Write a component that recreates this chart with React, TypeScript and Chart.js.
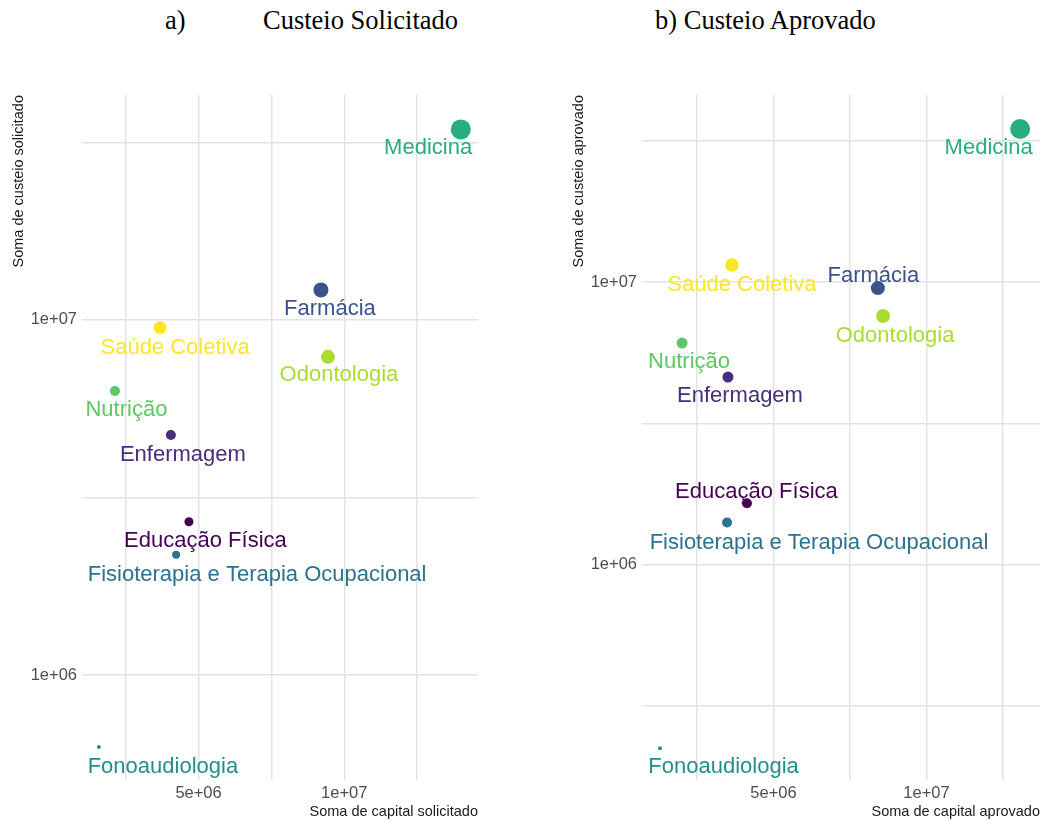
import React, { useEffect, useRef } from 'react';
import { Chart, registerables } from 'chart.js';

Chart.register(...registerables);

// ---------- data ----------
const categories = [
  'Educação Física',
  'Enfermagem',
  'Farmácia',
  'Fisioterapia e Terapia Ocupacional',
  'Fonoaudiologia',
  'Medicina',
  'Nutrição',
  'Odontologia',
  'Saúde Coletiva',
];
const colors = ['#440154', '#472D7B', '#3B528B', '#2C728E', '#21908C', '#27AD81', '#5DC863', '#AADC32', '#FDE725'];

// a) Custeio Solicitado
const capitalSolicitado = [4.67e6, 4.05e6, 9.2e6, 4.23e6, 1.58e6, 14.0e6, 2.13e6, 9.44e6, 3.68e6];
const custeioSolicitado = [2.7e6, 4.74e6, 1.215e7, 2.18e6, 6.27e5, 3.44e7, 6.31e6, 7.87e6, 9.51e6];
const sizeSolicitado = [4.5, 5, 7.5, 4, 2, 10, 5, 7, 6.5];

// b) Custeio Aprovado
const capitalAprovado = [4.13e6, 3.51e6, 8.41e6, 3.48e6, 1.29e6, 13.06e6, 2.01e6, 8.58e6, 3.64e6];
const custeioAprovado = [1.65e6, 4.61e6, 9.52e6, 1.41e6, 2.24e5, 3.48e7, 6.08e6, 7.58e6, 1.149e7];
const sizeAprovado = [5, 5.5, 7, 5, 2, 10, 5.5, 7, 6.7];

// ticks
const xTickValues = [2.5e6, 5e6, 7.5e6, 1e7, 1.25e7];
const xTickLabels = ['', '5e+06', '', '1e+07', ''];
const yTickValuesA = [1e6, 3162278, 1e7, 31622777];
const yTickValuesB = [316228, 1e6, 3162278, 1e7, 31622777];
const yTickLabelMap: Record<string, string> = { '1000000': '1e+06', '10000000': '1e+07' };

// label layout (pixel offsets of label centre from the point)
const labelOffsetsA: [number, number][] = [
  [16.5, 19.3], [12, 20], [9, 19], [81, 19.7], [64, 19.5], [-32.7, 19], [11.5, 18.7], [11, 18.5], [15, 20],
];
const labelOffsetsB: [number, number][] = [
  [9.5, -11.3], [12, 18.8], [-4.5, -12], [92, 20], [63.5, 18.5], [-31.5, 19.3], [7, 18.7], [12, 20], [10, 19.5],
];

const SANS = '"Liberation Sans", Arial, sans-serif';

const labelPlugin = {
  id: 'pointLabels',
  beforeDatasetsDraw(chart: any, _args: any, opts: any) {
    const meta = chart.getDatasetMeta(0);
    const ctx = chart.ctx;
    ctx.save();
    ctx.font = `22px ${SANS}`;
    ctx.textAlign = 'center';
    ctx.textBaseline = 'middle';
    meta.data.forEach((el: any, i: number) => {
      const off = opts.offsets[i];
      ctx.fillStyle = colors[i];
      ctx.fillText(categories[i], el.x + off[0], el.y + off[1]);
    });
    ctx.restore();
  },
};

interface PanelProps {
  xs: number[];
  ys: number[];
  sizes: number[];
  offsets: [number, number][];
  xMin: number;
  xMax: number;
  yMin: number;
  yMax: number;
  yTicks: number[];
  xTitle: string;
  yTitle: string;
  paddingRight: number;
}

function Panel(p: PanelProps) {
  const ref = useRef<HTMLCanvasElement | null>(null);
  useEffect(() => {
    if (!ref.current) return;
    const chart = new Chart(ref.current, {
      type: 'scatter',
      data: {
        datasets: [
          {
            data: p.xs.map((x, i) => ({ x, y: p.ys[i] })),
            backgroundColor: colors,
            pointRadius: p.sizes,
            pointBorderWidth: 0,
            pointHoverRadius: p.sizes,
          },
        ],
      },
      options: {
        animation: false,
        responsive: true,
        maintainAspectRatio: false,
        events: [],
        layout: { autoPadding: false, padding: { top: 15, right: p.paddingRight, left: 0, bottom: 0 } },
        plugins: {
          legend: { display: false },
          tooltip: { enabled: false },
          pointLabels: { offsets: p.offsets },
        } as any,
        scales: {
          x: {
            type: 'linear',
            min: p.xMin,
            max: p.xMax,
            afterBuildTicks: (s: any) => {
              s.ticks = xTickValues.map((v) => ({ value: v }));
            },
            afterFit: (s: any) => {
              s.height = 41;
              s.paddingLeft = 0;
              s.paddingRight = 0;
            },
            grid: { color: '#E3E3E3', lineWidth: 1.5, drawTicks: false },
            border: { display: false },
            ticks: {
              autoSkip: false,
              maxRotation: 0,
              minRotation: 0,
              padding: 4,
              color: '#4D4D4D',
              font: { family: SANS, size: 16.5 },
              callback: (v: any) => {
                const idx = xTickValues.indexOf(Number(v));
                return idx >= 0 ? xTickLabels[idx] : '';
              },
            },
            title: {
              display: true,
              text: p.xTitle,
              align: 'end',
              color: '#1A1A1A',
              font: { family: SANS, size: 14.5 },
              padding: { top: 0, bottom: 0 },
            },
          },
          y: {
            type: 'logarithmic',
            min: p.yMin,
            max: p.yMax,
            afterBuildTicks: (s: any) => {
              s.ticks = p.yTicks.map((v) => ({ value: v }));
            },
            afterFit: (s: any) => {
              s.width = 82;
              s.paddingTop = 0;
              s.paddingBottom = 0;
            },
            grid: { color: '#E3E3E3', lineWidth: 1.5, drawTicks: false },
            border: { display: false },
            ticks: {
              autoSkip: false,
              padding: 5,
              color: '#4D4D4D',
              font: { family: SANS, size: 16.5 },
              callback: (v: any) => yTickLabelMap[String(Math.round(Number(v)))] || '',
            },
            title: {
              display: true,
              text: p.yTitle,
              align: 'end',
              color: '#1A1A1A',
              font: { family: SANS, size: 14.5 },
              padding: { top: 10, bottom: 0 },
            },
          },
        },
      } as any,
      plugins: [labelPlugin],
    });
    return () => chart.destroy();
  }, []);
  return <canvas ref={ref} />;
}

export default function App() {
  const titleStyle: React.CSSProperties = {
    position: 'absolute',
    top: 7,
    fontFamily: '"Liberation Serif", "Times New Roman", serif',
    fontSize: 26.5,
    lineHeight: 1,
    color: '#000',
    whiteSpace: 'nowrap',
  };
  return (
    <div style={{ position: 'absolute', left: 0, top: 0, width: 1041, height: 821, background: '#fff', overflow: 'hidden' }}>
      <div style={{ ...titleStyle, left: 165 }}>a)</div>
      <div style={{ ...titleStyle, left: 263 }}>Custeio Solicitado</div>
      <div style={{ ...titleStyle, left: 655 }}>b) Custeio Aprovado</div>
      <div style={{ position: 'absolute', left: 0, top: 80, width: 500, height: 741 }}>
        <Panel
          xs={capitalSolicitado}
          ys={custeioSolicitado}
          sizes={sizeSolicitado}
          offsets={labelOffsetsA}
          xMin={1.0e6}
          xMax={14.59e6}
          yMin={5.06e5}
          yMax={4.3e7}
          yTicks={yTickValuesA}
          xTitle="Soma de capital solicitado"
          yTitle="Soma de custeio solicitado"
          paddingRight={22}
        />
      </div>
      <div style={{ position: 'absolute', left: 560, top: 80, width: 481, height: 741 }}>
        <Panel
          xs={capitalAprovado}
          ys={custeioAprovado}
          sizes={sizeAprovado}
          offsets={labelOffsetsB}
          xMin={0.7e6}
          xMax={13.71e6}
          yMin={1.73e5}
          yMax={4.59e7}
          yTicks={yTickValuesB}
          xTitle="Soma de capital aprovado"
          yTitle="Soma de custeio aprovado"
          paddingRight={1}
        />
      </div>
    </div>
  );
}
